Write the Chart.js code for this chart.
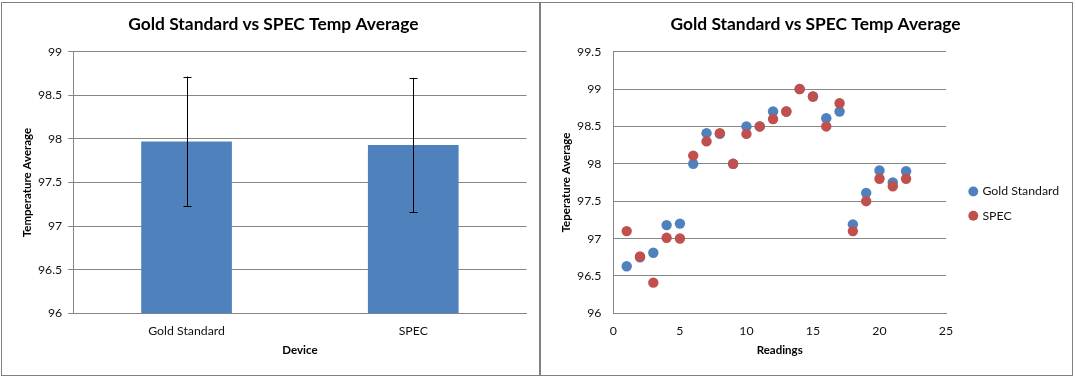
<!DOCTYPE html>
<html><head><meta charset="utf-8">
<script src="https://cdn.jsdelivr.net/npm/chart.js@4.4.1/dist/chart.umd.min.js"></script>
<style>
html,body{margin:0;padding:0;background:#fff;}
body{width:1076px;height:380px;position:relative;overflow:hidden;}
.panel{position:absolute;top:2px;height:374px;box-sizing:border-box;border:1px solid #808080;background:#fff;}
#p1{left:1px;width:539px;}
#p2{left:540px;width:533px;}
.panel canvas{display:block;}
</style></head><body>
<div class="panel" id="p1"><canvas id="c1" width="537" height="372"></canvas></div>
<div class="panel" id="p2"><canvas id="c2" width="531" height="372"></canvas></div>
<script>
// ---- data ----
const chartTitle = 'Gold Standard vs SPEC Temp Average';
const barCategories = ['Gold Standard', 'SPEC'];
const barMeans = [97.97, 97.93];
const barErrors = [0.745, 0.77];
const readings = [1, 2, 3, 4, 5, 6, 7, 8, 9, 10, 11, 12, 13, 14, 15, 16, 17, 18, 19, 20, 21, 22];
const goldStandard = [96.63, 96.75, 96.81, 97.18, 97.20, 98.00, 98.41, 98.40, 98.00, 98.50, 98.50, 98.70, 98.70, 99.00, 98.90, 98.61, 98.70, 97.19, 97.61, 97.91, 97.75, 97.90];
const spec = [97.10, 96.76, 96.41, 97.01, 97.00, 98.11, 98.30, 98.41, 98.00, 98.40, 98.50, 98.60, 98.70, 99.00, 98.90, 98.50, 98.81, 97.10, 97.50, 97.80, 97.70, 97.80];

// ---- styling ----
const FONT = 'Lato, "Open Sans", "DejaVu Sans", sans-serif';
const GRID = '#868686';
const TEXT = '#111111';
const BLUE = '#4F81BD';
const RED = '#C0504D';
Chart.defaults.font.family = FONT;
Chart.defaults.color = TEXT;
Chart.defaults.animation = false;

const tickFmt = v => String(v);
const titleOpts = {
  display: true, text: chartTitle, color: '#000',
  font: {size: 17.4, weight: 'bold', family: FONT, lineHeight: 1.2},
  padding: {top: 10.6, bottom: 17.2}
};
const axisTitleFont = {size: 11.5, weight: 'bold', family: FONT, lineHeight: 1.2};

const errorBars = {
  id: 'errorBars',
  afterDatasetsDraw(chart) {
    const ctx = chart.ctx;
    const meta = chart.getDatasetMeta(0);
    const y = chart.scales.y;
    ctx.save();
    ctx.strokeStyle = '#000';
    ctx.lineWidth = 1;
    meta.data.forEach((bar, i) => {
      const x = Math.round(bar.x) + 0.5;
      const yt = y.getPixelForValue(barMeans[i] + barErrors[i]);
      const yb = y.getPixelForValue(barMeans[i] - barErrors[i]);
      ctx.beginPath();
      ctx.moveTo(x, yt); ctx.lineTo(x, yb);
      ctx.moveTo(x - 4, Math.round(yt) + 0.5); ctx.lineTo(x + 4, Math.round(yt) + 0.5);
      ctx.moveTo(x - 4, Math.round(yb) + 0.5); ctx.lineTo(x + 4, Math.round(yb) + 0.5);
      ctx.stroke();
    });
    ctx.restore();
  }
};

new Chart(document.getElementById('c1'), {
  type: 'bar',
  data: {
    labels: barCategories,
    datasets: [{data: barMeans, backgroundColor: BLUE, borderWidth: 0, categoryPercentage: 1, barPercentage: 0.4}]
  },
  options: {
    responsive: false,
    layout: {padding: {left: 18.1, right: 12.4, top: 0, bottom: 17.7}},
    plugins: {legend: {display: false}, tooltip: {enabled: false}, title: titleOpts},
    scales: {
      x: {
        grid: {display: false, drawTicks: false},
        border: {display: true, color: GRID},
        ticks: {padding: 10, font: {size: 12.3}, color: TEXT},
        title: {display: true, text: 'Device', font: axisTitleFont, color: '#000', padding: 0},
        afterFit(s) { s.height = 44; }
      },
      y: {
        min: 96, max: 99,
        grid: {color: GRID, tickLength: 5, drawTicks: true},
        border: {display: true, color: GRID},
        ticks: {stepSize: 0.5, padding: 6, font: {size: 12.3}, color: TEXT, callback: tickFmt},
        title: {display: true, text: 'Temperature Average', font: axisTitleFont, color: '#000', padding: 0},
        afterFit(s) { s.width = 53.1; }
      }
    }
  },
  plugins: [errorBars]
});

const LEGEND_W = 126, LEGEND_DX = 12.3, LEGEND_DY = 23.5;
const legendFix = {
  id: 'legendFix',
  beforeLayout(chart) {
    const lg = chart.legend;
    if (lg && !lg.__fixed) {
      const orig = lg.fit;
      lg.fit = function () { orig.call(this); this.width = LEGEND_W; };
      lg.__fixed = true;
    }
  },
  afterLayout(chart) {
    const lg = chart.legend;
    if (lg) { lg.left += LEGEND_DX; lg.right += LEGEND_DX; lg.top += LEGEND_DY; lg.bottom += LEGEND_DY; }
  }
};

new Chart(document.getElementById('c2'), {
  type: 'scatter',
  data: {
    datasets: [
      {label: 'Gold Standard', data: readings.map((r, i) => ({x: r, y: goldStandard[i]})), backgroundColor: BLUE, borderWidth: 0, pointRadius: 5.2, pointStyle: 'circle', order: 1},
      {label: 'SPEC', data: readings.map((r, i) => ({x: r, y: spec[i]})), backgroundColor: RED, borderWidth: 0, pointRadius: 5.2, pointStyle: 'circle', order: 0}
    ]
  },
  options: {
    responsive: false,
    layout: {padding: {left: 18.1, right: 0, top: 0, bottom: 17.7}},
    plugins: {
      tooltip: {enabled: false},
      title: titleOpts,
      legend: {
        display: true, position: 'right', align: 'center',
        labels: {usePointStyle: true, boxWidth: 6, boxHeight: 7, padding: 12, font: {size: 12.3}, color: TEXT,
                 sort: (a, b) => a.datasetIndex - b.datasetIndex}
      }
    },
    scales: {
      x: {
        type: 'linear', min: 0, max: 25,
        grid: {display: false, drawTicks: false},
        border: {display: true, color: GRID},
        ticks: {stepSize: 5, padding: 10, font: {size: 12.3}, color: TEXT, callback: tickFmt},
        title: {display: true, text: 'Readings', font: axisTitleFont, color: '#000', padding: 0},
        afterFit(s) { s.height = 44; }
      },
      y: {
        min: 96, max: 99.5,
        grid: {color: GRID, drawTicks: false},
        border: {display: true, color: GRID},
        ticks: {stepSize: 0.5, padding: 12, font: {size: 12.3}, color: TEXT, callback: tickFmt},
        title: {display: true, text: 'Teperature Average', font: axisTitleFont, color: '#000', padding: 0},
        afterFit(s) { s.width = 54.3; }
      }
    }
  },
  plugins: [legendFix]
});
</script>
</body></html>
